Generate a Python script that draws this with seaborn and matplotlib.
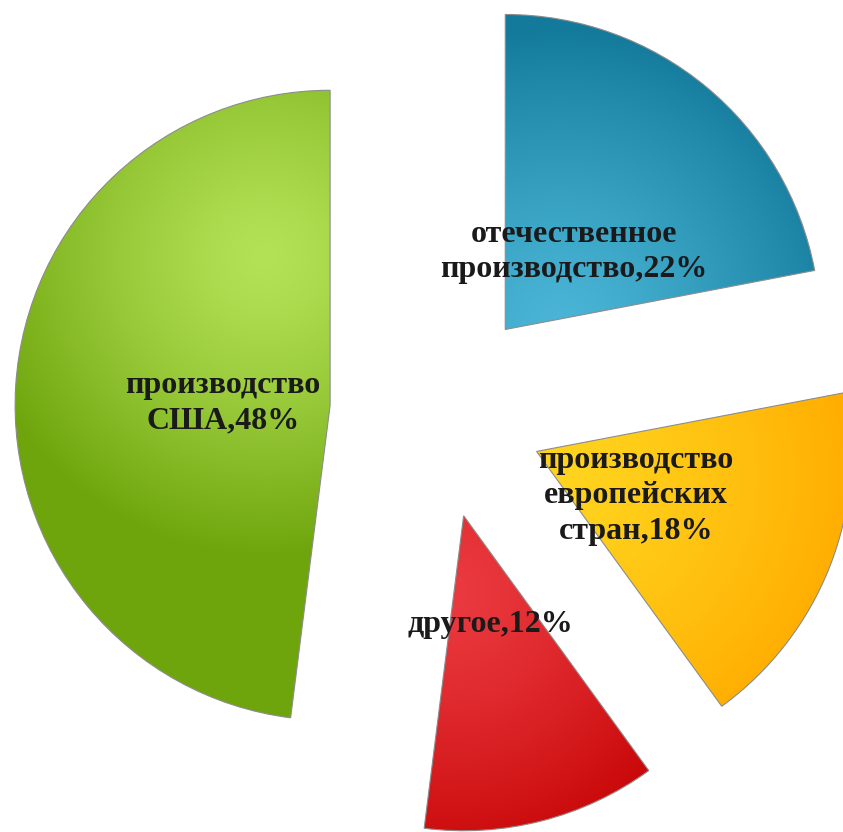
import numpy as np
import matplotlib
matplotlib.use("Agg")
import matplotlib.pyplot as plt
import matplotlib.transforms as mtransforms
import seaborn as sns
from matplotlib.colors import to_rgb

# data
labels = ["отечественное\nпроизводство", "производство\nевропейских\nстран", "другое", "производство\nСША"]
shares = [22, 18, 12, 48]

# colours: base fill, light highlight, dark rim
base_colors = ["#2196b6", "#ffc000", "#d40a0a", "#86bd22"]
light_colors = ["#4ab5d6", "#ffd41e", "#ea3a40", "#b4e257"]
dark_colors = ["#137a9b", "#ffac00", "#c40000", "#6ea50c"]
# highlight points in image pixels
hl_px = [(560, 327), (560, 477), (450, 592), (265, 257)]

sns.set_theme(style="white")
plt.rcParams["font.family"] = ["Liberation Serif", "DejaVu Serif"]

W, H = 843, 832
cx, cy, R = 437, 412, 315

fig = plt.figure(figsize=(W / 100, H / 100), dpi=100)
ax = fig.add_axes([0, 0, 1, 1])

lab_iter = iter(labels)
wedges, _, autotexts = ax.pie(
    shares,
    labels=None,
    colors=base_colors,
    startangle=90,
    counterclock=False,
    explode=[0.34] * len(shares),
    autopct=lambda p: f"{next(lab_iter)},{p:.0f}%",
    pctdistance=0.34,
    textprops=dict(fontsize=23, fontweight="bold", color="#1a1a1a"),
    wedgeprops=dict(linewidth=0.8, edgecolor="#8c8c8c"),
)

xlim = (-cx / R, (W - cx) / R)
ylim = (-(H - cy) / R, cy / R)
ax.set_aspect("auto")
ax.set_xlim(*xlim)
ax.set_ylim(*ylim)
ax.axis("off")

# glossy shading: radial gradient clipped to each wedge
gx = np.linspace(xlim[0], xlim[1], 600)
gy = np.linspace(ylim[1], ylim[0], 600)
XX, YY = np.meshgrid(gx, gy)
for w, lc, dc, (hx, hy) in zip(wedges, light_colors, dark_colors, hl_px):
    hxd = (hx - cx) / R
    hyd = (cy - hy) / R
    t = np.clip(np.hypot(XX - hxd, YY - hyd) / 0.95, 0, 1) ** 1.3
    lc_, dc_ = np.array(to_rgb(lc)), np.array(to_rgb(dc))
    img = lc_ * (1 - t[..., None]) + dc_ * t[..., None]
    im = ax.imshow(img, extent=(xlim[0], xlim[1], ylim[0], ylim[1]),
                   origin="upper", aspect="auto", zorder=2, interpolation="bilinear")
    im.set_clip_path(w)
    w.set_facecolor("none")
    w.set_zorder(3)

shift = mtransforms.ScaledTranslation(0, -5 / 100, fig.dpi_scale_trans)
for t in autotexts:
    t.set_zorder(5)
    t.set_linespacing(1.3)
    t.set_transform(t.get_transform() + shift)

fig.savefig("out.png", dpi=100, facecolor="white")
